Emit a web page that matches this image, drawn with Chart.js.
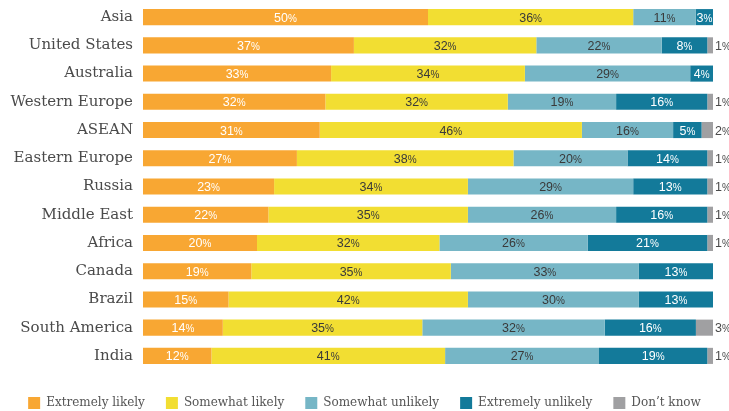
<!DOCTYPE html>
<html lang="en">
<head>
    <meta charset="UTF-8">
    <title>Likelihood by region</title>
    <script src="https://cdn.jsdelivr.net/npm/chart.js"></script>
    <style>
        html, body { margin: 0; padding: 0; background: #fff; }
        .chart-box { width: 729px; height: 411px; position: relative; }
    </style>
</head>
<body>
    <div class="chart-box">
        <canvas id="likelyChart"></canvas>
    </div>
    <script>
        // Data
        const regions = ['Asia', 'United States', 'Australia', 'Western Europe', 'ASEAN', 'Eastern Europe',
            'Russia', 'Middle East', 'Africa', 'Canada', 'Brazil', 'South America', 'India'];
        const seriesNames = ['Extremely likely', 'Somewhat likely', 'Somewhat unlikely', 'Extremely unlikely', 'Don\u2019t know'];
        const extremelyLikely   = [50, 37, 33, 32, 31, 27, 23, 22, 20, 19, 15, 14, 12];
        const somewhatLikely    = [36, 32, 34, 32, 46, 38, 34, 35, 32, 35, 42, 35, 41];
        const somewhatUnlikely  = [11, 22, 29, 19, 16, 20, 29, 26, 26, 33, 30, 32, 27];
        const extremelyUnlikely = [3, 8, 4, 16, 5, 14, 13, 16, 21, 13, 13, 16, 19];
        const dontKnow          = [0, 1, 0, 1, 2, 1, 1, 1, 1, 0, 0, 3, 1];

        const colors = ['#F8A733', '#F2DE32', '#76B6C6', '#137A9A', '#A0A0A2'];
        const labelColors = ['#ffffff', '#3a3a3a', '#3a3a3a', '#ffffff', '#4a4a4a'];
        const serif = '"DejaVu Serif", "Liberation Serif", serif';
        const narrow = '"Liberation Sans Narrow", "Liberation Sans", Arial, sans-serif';

        // draws "37%" with a smaller percent sign, in the middle of each segment
        const pctLabels = {
            id: 'pctLabels',
            afterDatasetsDraw(chart) {
                const ctx = chart.ctx;
                ctx.save();
                ctx.textBaseline = 'alphabetic';
                ctx.textAlign = 'left';
                chart.data.datasets.forEach((ds, di) => {
                    const meta = chart.getDatasetMeta(di);
                    meta.data.forEach((bar, i) => {
                        const v = ds.data[i];
                        if (!v) return;
                        const num = String(v);
                        ctx.font = '12.5px ' + narrow;
                        const wNum = ctx.measureText(num).width;
                        ctx.font = '10px ' + narrow;
                        const wPct = ctx.measureText('%').width;
                        let x;
                        if (di === 4) {
                            x = bar.x + 2;
                        } else {
                            x = (bar.x + bar.base) / 2 - (wNum + wPct) / 2;
                        }
                        const y = bar.y + 4.5;
                        ctx.fillStyle = labelColors[di];
                        ctx.font = '12.5px ' + narrow;
                        ctx.fillText(num, x, y);
                        ctx.font = '10px ' + narrow;
                        ctx.fillText('%', x + wNum, y);
                    });
                });
                ctx.restore();
            }
        };

        const seriesData = [extremelyLikely, somewhatLikely, somewhatUnlikely, extremelyUnlikely, dontKnow];

        new Chart(document.getElementById('likelyChart'), {
            type: 'bar',
            data: {
                labels: regions,
                datasets: seriesNames.map((name, i) => ({
                    label: name,
                    data: seriesData[i],
                    backgroundColor: colors[i],
                    borderWidth: 0,
                    categoryPercentage: 0.57,
                    barPercentage: 1
                }))
            },
            options: {
                indexAxis: 'y',
                responsive: true,
                maintainAspectRatio: false,
                animation: false,
                layout: { padding: { top: 3, right: 0, left: 0, bottom: -8 } },
                scales: {
                    x: {
                        stacked: true,
                        min: 0,
                        max: 100,
                        display: false
                    },
                    y: {
                        stacked: true,
                        grid: { display: false, drawTicks: false },
                        border: { display: false },
                        ticks: {
                            padding: 10,
                            color: '#4a4a4a',
                            font: { family: serif, size: 15 }
                        },
                        afterFit(scale) {
                            scale.width = 143;
                            scale.paddingTop = 0;
                            scale.paddingBottom = 0;
                        }
                    },
                    // empty strip on the right so the outside labels have room
                    yRight: {
                        type: 'category',
                        position: 'right',
                        grid: { display: false, drawTicks: false },
                        border: { display: false },
                        ticks: { display: false },
                        afterFit(scale) {
                            scale.width = 16;
                            scale.paddingTop = 0;
                            scale.paddingBottom = 0;
                        }
                    }
                },
                plugins: {
                    legend: {
                        position: 'bottom',
                        // empty title only adds a little space above the items
                        title: { display: true, text: '', padding: 0, font: { size: 6, lineHeight: 1 } },
                        labels: {
                            boxWidth: 12,
                            boxHeight: 12,
                            padding: 21,
                            color: '#555',
                            font: { family: serif, size: 12 }
                        }
                    },
                    tooltip: { enabled: false }
                }
            },
            plugins: [pctLabels]
        });
    </script>
</body>
</html>
